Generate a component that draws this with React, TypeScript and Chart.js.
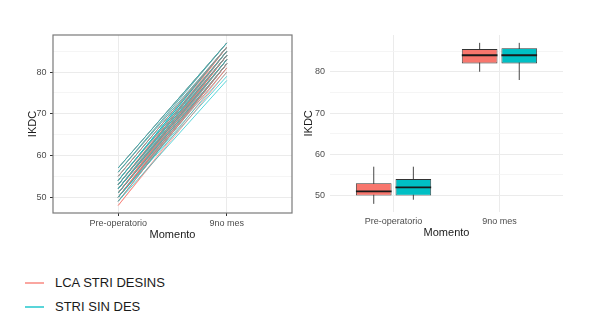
import React, { useEffect, useRef } from 'react';
import { Chart, registerables } from 'chart.js';
Chart.register(...registerables);

const categories = ['Pre-operatorio', '9no mes'];
const groups = ['LCA STRI DESINS', 'STRI SIN DES'];
const groupColors = ['#F8766D', '#00BFC4'];
const groupLineColors = ['rgba(248,118,109,0.65)', 'rgba(0,191,196,0.65)'];
const yMajorTicks = [50, 60, 70, 80];
const yMinorTicks = [55, 65, 75, 85];

// individual subjects (pre-op, 9 months)
const redPre = [48, 52, 50, 55, 51, 53, 49, 57, 51, 50, 54, 52, 51, 53, 50, 56, 51, 48, 52, 53, 55, 50, 51, 54, 49, 53, 51, 57, 50, 52, 56, 51, 53, 50, 52];
const redPost = [80, 84, 82, 86, 83, 85, 82, 87, 84, 81, 85, 84, 82, 86, 83, 87, 85, 81, 83, 84, 86, 82, 84, 85, 82, 85, 83, 87, 84, 83, 86, 84, 85, 82, 86];
const tealPre = [49, 52, 50, 54, 51, 53, 57, 50, 52, 55, 49, 51, 53, 52, 56, 50, 54, 52, 51, 53, 50, 55, 52, 57, 51, 54, 50, 53, 52, 56, 50, 52, 54, 51, 53];
const tealPost = [78, 83, 80, 85, 82, 84, 87, 79, 84, 86, 82, 83, 85, 84, 87, 82, 86, 84, 82, 85, 81, 86, 83, 87, 84, 86, 82, 85, 84, 86, 83, 85, 86, 83, 84];

// boxplot statistics per category [pre, 9 months]
const redQ1 = [50, 82];
const redMedian = [51, 84];
const redQ3 = [53, 85.5];
const redLow = [48, 80];
const redHigh = [57, 87];
const tealQ1 = [50, 82];
const tealMedian = [52, 84];
const tealQ3 = [54, 85.7];
const tealLow = [49, 78];
const tealHigh = [57, 87];

const FONT = 'Arial, "Liberation Sans", sans-serif';
const allYTicks = [...yMajorTicks, ...yMinorTicks].sort((a, b) => a - b);
const isMajor = (v: number) => yMajorTicks.includes(v);

const xAxisBase = (height: number, drawTicks: boolean, pad: number, titlePad: number) => ({
  type: 'linear' as const,
  min: 0.4,
  max: 2.6,
  offset: false,
  afterBuildTicks: (s: any) => {
    s.ticks = categories.map((_, i) => ({ value: i + 1 }));
  },
  afterFit: (s: any) => {
    s.height = height;
  },
  ticks: {
    autoSkip: false,
    maxRotation: 0,
    padding: pad,
    color: '#4d4d4d',
    font: { family: FONT, size: 9 },
    callback: (v: any) => categories[Math.round(v) - 1] ?? '',
  },
  grid: {
    offset: false,
    color: '#ebebeb',
    lineWidth: 1,
    drawTicks,
    tickLength: 3,
    tickColor: '#333333',
  },
  border: { display: false },
  title: {
    display: true,
    text: 'Momento',
    color: '#1a1a1a',
    font: { family: FONT, size: 11 },
    padding: { top: 0, bottom: titlePad },
  },
});

const yAxisBase = (min: number, max: number, width: number, drawTicks: boolean, pad: number, titlePad: number) => ({
  type: 'linear' as const,
  min,
  max,
  beginAtZero: false,
  afterBuildTicks: (s: any) => {
    s.ticks = allYTicks.map((v) => ({ value: v }));
  },
  afterFit: (s: any) => {
    s.width = width;
  },
  ticks: {
    autoSkip: false,
    padding: pad,
    color: '#4d4d4d',
    font: { family: FONT, size: 9 },
    callback: (v: any) => (isMajor(v) ? String(v) : ''),
  },
  grid: {
    color: (c: any) => (isMajor(c.tick?.value) ? '#ebebeb' : '#f3f3f3'),
    lineWidth: (c: any) => (isMajor(c.tick?.value) ? 1 : 0.8),
    drawTicks,
    tickLength: 3,
    tickColor: (c: any) => (isMajor(c.tick?.value) ? '#333333' : 'rgba(0,0,0,0)'),
  },
  border: { display: false },
  title: {
    display: true,
    text: 'IKDC',
    color: '#1a1a1a',
    font: { family: FONT, size: 11 },
    padding: { top: titlePad, bottom: 0 },
  },
});

const panelBorder = {
  id: 'panelBorder',
  afterDatasetsDraw(chart: any) {
    const { ctx, chartArea } = chart;
    ctx.save();
    ctx.strokeStyle = '#7a7a7a';
    ctx.lineWidth = 1.2;
    ctx.strokeRect(chartArea.left, chartArea.top, chartArea.right - chartArea.left, chartArea.bottom - chartArea.top);
    ctx.restore();
  },
};

const boxStats = [
  { q1: redQ1, med: redMedian, q3: redQ3, lo: redLow, hi: redHigh },
  { q1: tealQ1, med: tealMedian, q3: tealQ3, lo: tealLow, hi: tealHigh },
];

const boxPlugin = {
  id: 'boxExtras',
  beforeDatasetsDraw(chart: any) {
    const { ctx } = chart;
    const y = chart.scales.y;
    ctx.save();
    ctx.strokeStyle = '#333333';
    ctx.lineWidth = 0.9;
    boxStats.forEach((st, d) => {
      const meta = chart.getDatasetMeta(d);
      meta.data.forEach((bar: any, i: number) => {
        ctx.beginPath();
        ctx.moveTo(bar.x, y.getPixelForValue(st.lo[i]));
        ctx.lineTo(bar.x, y.getPixelForValue(st.hi[i]));
        ctx.stroke();
      });
    });
    ctx.restore();
  },
  afterDatasetsDraw(chart: any) {
    const { ctx } = chart;
    const y = chart.scales.y;
    ctx.save();
    ctx.strokeStyle = '#1a1a1a';
    ctx.lineWidth = 1.8;
    boxStats.forEach((st, d) => {
      const meta = chart.getDatasetMeta(d);
      meta.data.forEach((bar: any, i: number) => {
        const py = y.getPixelForValue(st.med[i]);
        ctx.beginPath();
        ctx.moveTo(bar.x - bar.width / 2, py);
        ctx.lineTo(bar.x + bar.width / 2, py);
        ctx.stroke();
      });
    });
    ctx.restore();
  },
};

function LinesChart() {
  const ref = useRef<HTMLCanvasElement>(null);
  useEffect(() => {
    const mk = (pre: number, post: number, g: number) => ({
      label: groups[g],
      data: [
        { x: 1, y: pre },
        { x: 2, y: post },
      ],
      borderColor: groupLineColors[g],
      borderWidth: 1,
      pointRadius: 0,
      fill: false,
    });
    const datasets: any[] = [];
    const n = Math.max(redPre.length, tealPre.length);
    for (let i = 0; i < n; i++) {
      if (i < tealPre.length) datasets.push(mk(tealPre[i], tealPost[i], 1));
      if (i < redPre.length) datasets.push(mk(redPre[i], redPost[i], 0));
    }
    const chart = new Chart(ref.current!, {
      type: 'line',
      data: { datasets },
      options: {
        responsive: false,
        animation: false,
        layout: { padding: { top: 35, right: 8, left: 0, bottom: 0 } },
        plugins: { legend: { display: false }, tooltip: { enabled: false } },
        scales: {
          x: xAxisBase(37, true, 2, 8.5) as any,
          y: yAxisBase(46.2, 88.9, 53, true, 3.5, 26) as any,
        },
      },
      plugins: [panelBorder],
    });
    return () => chart.destroy();
  }, []);
  return <canvas ref={ref} width={300} height={250} style={{ position: 'absolute', left: 0, top: 0 }} />;
}

function BoxChart() {
  const ref = useRef<HTMLCanvasElement>(null);
  useEffect(() => {
    const datasets = boxStats.map((st, g) => ({
      label: groups[g],
      data: categories.map((_, i) => ({ x: i + 1, y: [st.q1[i], st.q3[i]] })),
      backgroundColor: groupColors[g],
      borderColor: '#333333',
      borderWidth: 0.9,
      borderSkipped: false,
      categoryPercentage: 0.748,
      barPercentage: 0.9,
    }));
    const chart = new Chart(ref.current!, {
      type: 'bar',
      data: { datasets } as any,
      options: {
        responsive: false,
        animation: false,
        layout: { padding: { top: 35, right: 37, left: 0, bottom: 0 } },
        plugins: { legend: { display: false }, tooltip: { enabled: false } },
        scales: {
          x: xAxisBase(38.3, false, 4.5, 10.7) as any,
          y: yAxisBase(46.1, 88.9, 30, false, 5, 1.9) as any,
        },
      },
      plugins: [boxPlugin],
    });
    return () => chart.destroy();
  }, []);
  return <canvas ref={ref} width={300} height={250} style={{ position: 'absolute', left: 300, top: 0 }} />;
}

function Legend() {
  return (
    <div style={{ position: 'absolute', left: 25, top: 271, fontFamily: FONT, fontSize: 13, color: '#1a1a1a' }}>
      {groups.map((g, i) => (
        <div key={g} style={{ display: 'flex', alignItems: 'center', height: 24 }}>
          <span style={{ display: 'inline-block', width: 19, height: 1.6, background: groupLineColors[i] }} />
          <span style={{ marginLeft: 11, lineHeight: '24px' }}>{g}</span>
        </div>
      ))}
    </div>
  );
}

export default function App() {
  return (
    <div style={{ position: 'absolute', left: 0, top: 0, width: 600, height: 336, background: '#fff', overflow: 'hidden' }}>
      <LinesChart />
      <BoxChart />
      <Legend />
    </div>
  );
}
